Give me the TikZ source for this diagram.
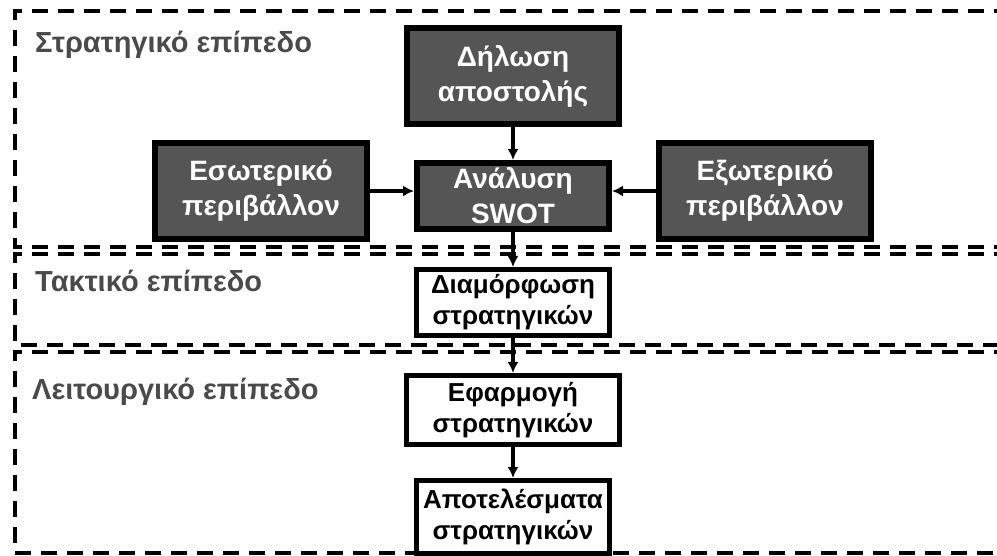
\documentclass[tikz,border=0pt]{standalone}
\usepackage{fontspec}
\setmainfont{Liberation Sans}
\usetikzlibrary{arrows.meta}
\definecolor{boxgray}{HTML}{555555}
\definecolor{labelgray}{HTML}{4A4A4A}
\tikzset{
  darkbox/.style={draw=black, line width=6pt, fill=boxgray, text=white, align=center,
    font=\bfseries\fontsize{28}{35}\selectfont, inner sep=0pt},
  whitebox/.style={draw=black, line width=5pt, fill=white, text=black, align=center,
    font=\bfseries\fontsize{26}{31}\selectfont, inner sep=0pt},
  zone/.style={line width=4pt, dash pattern=on 16pt off 10pt},
  levellabel/.style={anchor=west, text=labelgray, font=\bfseries\fontsize{29}{34}\selectfont, inner sep=0pt},
  flow/.style={line width=3.5pt, -{Latex[length=11pt,width=11pt]}}
}
\begin{document}
\begin{tikzpicture}[x=1pt,y=-1pt]
\useasboundingbox (0,0) rectangle (997,556);
% zone boundaries
\draw[zone] (1010,11) -- (15,11) -- (15,247) -- (1010,247);
\draw[zone] (1010,254) -- (15,254) -- (15,345) -- (1010,345);
\draw[zone] (1010,352) -- (15,352) -- (15,553) -- (1010,553);
% level labels
\node[levellabel] (l1) at (35,45) {Στρατηγικό επίπεδο};
\node[levellabel] (l2) at (35,281) {Τακτικό επίπεδο};
\node[levellabel] (l3) at (32,392) {Λειτουργικό επίπεδο};
% boxes
\node[darkbox, minimum width=212pt, minimum height=96pt] (mis) at (513,76) {Δήλωση\\αποστολής};
\node[darkbox, minimum width=212pt, minimum height=96pt] (int) at (261,191) {Εσωτερικό\\περιβάλλον};
\node[darkbox, minimum width=192pt, minimum height=66pt] (swot) at (513,196) {Ανάλυση\\SWOT};
\node[darkbox, minimum width=212pt, minimum height=96pt] (ext) at (765,191) {Εξωτερικό\\περιβάλλον};
\node[whitebox, minimum width=193pt, minimum height=66pt] (form) at (513,302.5) {Διαμόρφωση\\στρατηγικών};
\node[whitebox, minimum width=213pt, minimum height=69pt] (impl) at (513,410) {Εφαρμογή\\στρατηγικών};
\node[whitebox, minimum width=193pt, minimum height=73pt] (res) at (513,517) {Αποτελέσματα\\στρατηγικών};
% connectors
\draw[flow] (mis.south) -- (swot.north);
\draw[flow] (int.east) -- (int.east -| swot.west);
\draw[flow] (ext.west) -- (ext.west -| swot.east);
\draw[flow] (swot.south) -- (form.north);
\draw[flow] (form.south) -- (impl.north);
\draw[flow] (impl.south) -- (res.north);
\end{tikzpicture}
\end{document}
